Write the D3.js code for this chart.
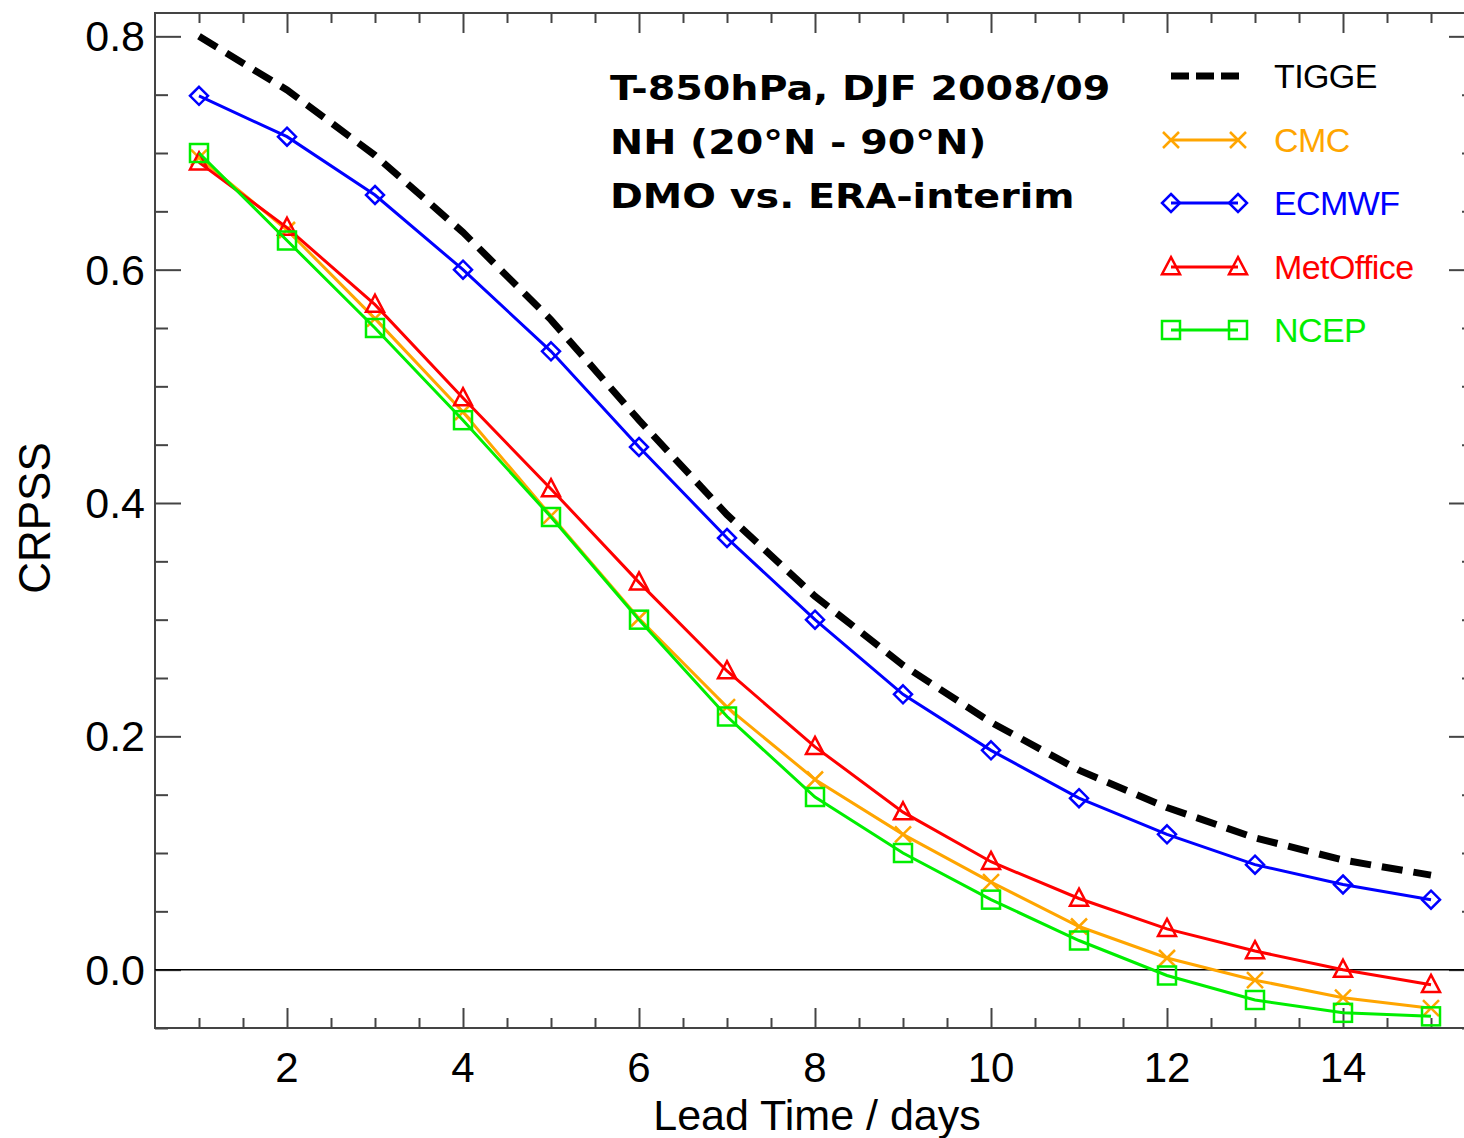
<!DOCTYPE html>
<html>
<head>
<meta charset="utf-8">
<script src="https://cdn.jsdelivr.net/npm/d3@7"></script>
<style>
  body { margin: 0; background: white; }
  svg { display: block; }
</style>
</head>
<body>
<div id="viz-container"></div>
<script>
// lead times (days)
let leadDays = [1, 2, 3, 4, 5, 6, 7, 8, 9, 10, 11, 12, 13, 14, 15];
// CRPSS values
let tigge     = [0.800, 0.754, 0.698, 0.632, 0.557, 0.471, 0.390, 0.320, 0.261, 0.212, 0.171, 0.139, 0.113, 0.094, 0.081];
let cmc       = [0.696, 0.634, 0.558, 0.478, 0.389, 0.301, 0.225, 0.163, 0.116, 0.075, 0.037, 0.010, -0.009, -0.024, -0.033];
let ecmwf     = [0.749, 0.714, 0.664, 0.600, 0.530, 0.448, 0.370, 0.300, 0.236, 0.188, 0.147, 0.116, 0.090, 0.073, 0.060];
let metoffice = [0.692, 0.636, 0.570, 0.490, 0.412, 0.332, 0.256, 0.191, 0.135, 0.0925, 0.061, 0.035, 0.016, 0.000, -0.013];
let ncep      = [0.700, 0.625, 0.550, 0.471, 0.388, 0.300, 0.217, 0.148, 0.100, 0.060, 0.025, -0.005, -0.026, -0.037, -0.040];

let xMajor = [2, 4, 6, 8, 10, 12, 14];
let yMajor = [0.0, 0.2, 0.4, 0.6, 0.8];
let titleLines = ["T-850hPa, DJF 2008/09", "NH (20°N - 90°N)", "DMO vs. ERA-interim"];

let series = [
  {name: "CMC", values: cmc, color: "#ffa500", marker: "x"},
  {name: "ECMWF", values: ecmwf, color: "#0000ff", marker: "diamond"},
  {name: "MetOffice", values: metoffice, color: "#ff0000", marker: "triangle"},
  {name: "NCEP", values: ncep, color: "#00ee00", marker: "square"}
];

let w = 1464, h = 1138;
let pLeft = 155, pRight = 1475, pTop = 13, pBottom = 1028;
let sansFont = "'Liberation Sans', Arial, sans-serif";

let viz = d3.select("#viz-container").append("svg")
    .attr("width", w).attr("height", h);

let xScale = d3.scaleLinear().domain([0.5, 15.5]).range([pLeft, pRight]);
let yScale = d3.scaleLinear().domain([-0.05, 0.82]).range([pBottom, pTop]);

let xMinor = d3.range(1, 15.01, 0.5).filter(d => xMajor.indexOf(d) < 0);
let yMinor = d3.range(-0.05, 0.8201, 0.05).map(d => +d.toFixed(2)).filter(d => yMajor.indexOf(d) < 0);

let axisColor = "#444";
function styleAxis(g) {
  g.select(".domain").remove();
  g.selectAll("line").attr("stroke", axisColor).attr("stroke-width", 2);
}

// bottom axis
viz.append("g").attr("transform", "translate(0," + pBottom + ")")
  .call(d3.axisTop(xScale).tickValues(xMajor).tickSize(20).tickFormat(""))
  .call(styleAxis);
viz.append("g").attr("transform", "translate(0," + pBottom + ")")
  .call(d3.axisTop(xScale).tickValues(xMinor).tickSize(10).tickFormat(""))
  .call(styleAxis);
// labels below
viz.append("g").selectAll("text").data(xMajor).enter().append("text")
  .attr("x", d => xScale(d)).attr("y", 1082)
  .attr("text-anchor", "middle")
  .style("font-family", sansFont)
  .style("font-size", "42px")
  .text(d => d);

// top axis
viz.append("g").attr("transform", "translate(0," + pTop + ")")
  .call(d3.axisBottom(xScale).tickValues(xMajor).tickSize(20).tickFormat(""))
  .call(styleAxis);
viz.append("g").attr("transform", "translate(0," + pTop + ")")
  .call(d3.axisBottom(xScale).tickValues(xMinor).tickSize(10).tickFormat(""))
  .call(styleAxis);

// left axis
viz.append("g").attr("transform", "translate(" + pLeft + ",0)")
  .call(d3.axisRight(yScale).tickValues(yMajor).tickSize(26).tickFormat(""))
  .call(styleAxis);
viz.append("g").attr("transform", "translate(" + pLeft + ",0)")
  .call(d3.axisRight(yScale).tickValues(yMinor).tickSize(13).tickFormat(""))
  .call(styleAxis);
viz.append("g").selectAll("text").data(yMajor).enter().append("text")
  .attr("x", 145).attr("y", d => yScale(d) + 15)
  .attr("text-anchor", "end")
  .style("font-family", sansFont)
  .style("font-size", "43px")
  .text(d => d3.format(".1f")(d));

// right axis
viz.append("g").attr("transform", "translate(" + pRight + ",0)")
  .call(d3.axisLeft(yScale).tickValues(yMajor).tickSize(26).tickFormat(""))
  .call(styleAxis);
viz.append("g").attr("transform", "translate(" + pRight + ",0)")
  .call(d3.axisLeft(yScale).tickValues(yMinor).tickSize(13).tickFormat(""))
  .call(styleAxis);

// frame
viz.append("rect")
  .attr("x", pLeft).attr("y", pTop)
  .attr("width", pRight - pLeft).attr("height", pBottom - pTop)
  .attr("fill", "none").attr("stroke", axisColor).attr("stroke-width", 2);

// zero line
viz.append("line")
  .attr("x1", pLeft).attr("x2", pRight)
  .attr("y1", yScale(0)).attr("y2", yScale(0))
  .attr("stroke", "black").attr("stroke-width", 1.5);

// axis titles
viz.append("text")
  .attr("x", 817).attr("y", 1130)
  .attr("text-anchor", "middle")
  .style("font-family", sansFont)
  .style("font-size", "43px")
  .text("Lead Time / days");
viz.append("text")
  .attr("transform", "translate(50,518) rotate(-90)")
  .attr("text-anchor", "middle")
  .style("font-family", sansFont)
  .style("font-size", "44px")
  .text("CRPSS");

let lineGenerator = d3.line()
  .x((d, i) => xScale(leadDays[i]))
  .y(d => yScale(d));

// TIGGE dashed
viz.append("path")
  .datum(tigge)
  .attr("fill", "none")
  .attr("stroke", "black")
  .attr("stroke-width", 7)
  .attr("stroke-dasharray", "21,11")
  .attr("d", lineGenerator);

function drawMarker(g, type, cx, cy, color) {
  let s;
  if (type === "x") {
    s = 8;
    g.append("path").attr("d", "M" + (cx - s) + "," + (cy - s) + "L" + (cx + s) + "," + (cy + s) +
        "M" + (cx - s) + "," + (cy + s) + "L" + (cx + s) + "," + (cy - s))
      .attr("stroke", color).attr("stroke-width", 2.5).attr("fill", "none");
  } else if (type === "diamond") {
    s = 9;
    g.append("path").attr("d", "M" + cx + "," + (cy - s) + "L" + (cx + s) + "," + cy +
        "L" + cx + "," + (cy + s) + "L" + (cx - s) + "," + cy + "Z")
      .attr("stroke", color).attr("stroke-width", 2.5).attr("fill", "none");
  } else if (type === "triangle") {
    s = 9;
    g.append("path").attr("d", "M" + cx + "," + (cy - s * 1.1) + "L" + (cx + s) + "," + (cy + s * 0.8) +
        "L" + (cx - s) + "," + (cy + s * 0.8) + "Z")
      .attr("stroke", color).attr("stroke-width", 2.5).attr("fill", "none");
  } else {
    s = 9;
    g.append("rect").attr("x", cx - s).attr("y", cy - s).attr("width", 2 * s).attr("height", 2 * s)
      .attr("stroke", color).attr("stroke-width", 2.5).attr("fill", "none");
  }
}

series.forEach(function(sr) {
  let g = viz.append("g");
  g.append("path")
    .datum(sr.values)
    .attr("fill", "none")
    .attr("stroke", sr.color)
    .attr("stroke-width", 3)
    .attr("d", lineGenerator);
  sr.values.forEach(function(v, i) {
    drawMarker(g, sr.marker, xScale(leadDays[i]), yScale(v), sr.color);
  });
});

// title block (wide bold face, stretched horizontally)
let title = viz.append("text")
  .attr("transform", "translate(610,0) scale(1.165,1)")
  .style("font-family", "'DejaVu Sans', Verdana, sans-serif")
  .style("font-weight", "bold")
  .style("font-size", "34px");
titleLines.forEach(function(t, i) {
  title.append("tspan").attr("x", 0).attr("y", 100 + i * 54).text(t);
});

// legend
let legendY = [76, 140, 203, 267, 330];
viz.append("line")
  .attr("x1", 1171).attr("x2", 1240)
  .attr("y1", legendY[0]).attr("y2", legendY[0])
  .attr("stroke", "black").attr("stroke-width", 7)
  .attr("stroke-dasharray", "18,7");
viz.append("text")
  .attr("x", 1274).attr("y", legendY[0] + 12)
  .style("font-family", sansFont).style("font-size", "34px")
  .style("letter-spacing", "-0.6px")
  .attr("fill", "black").text("TIGGE");
series.forEach(function(sr, i) {
  let y = legendY[i + 1];
  let g = viz.append("g");
  g.append("line")
    .attr("x1", 1171).attr("x2", 1238)
    .attr("y1", y).attr("y2", y)
    .attr("stroke", sr.color).attr("stroke-width", 3);
  drawMarker(g, sr.marker, 1171, y, sr.color);
  drawMarker(g, sr.marker, 1238, y, sr.color);
  g.append("text")
    .attr("x", 1274).attr("y", y + 12)
    .style("font-family", sansFont).style("font-size", "34px")
    .style("letter-spacing", "-0.6px")
    .attr("fill", sr.color).text(sr.name);
});
</script>
</body>
</html>
